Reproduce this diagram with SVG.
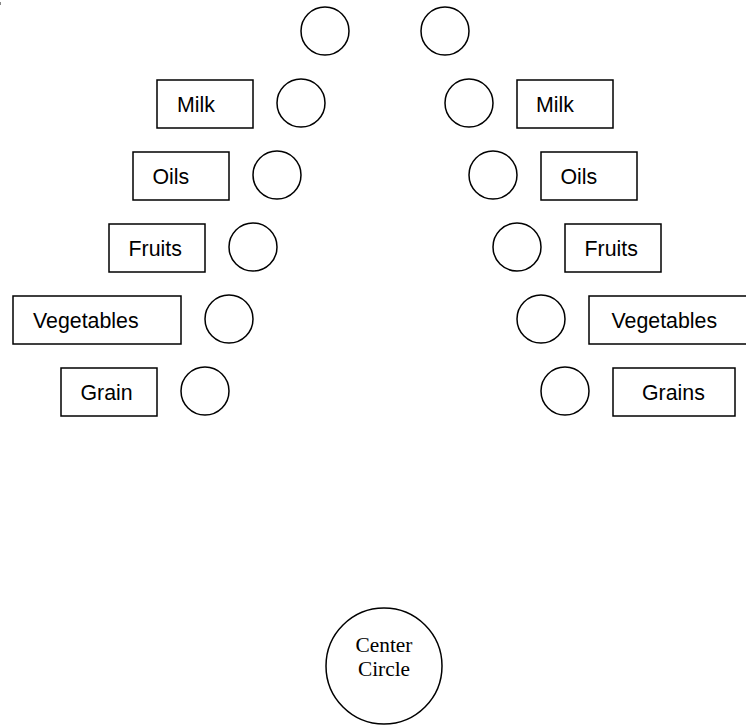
<svg xmlns="http://www.w3.org/2000/svg" width="746" height="725" viewBox="0 0 746 725">
<style>
.box{fill:#fff;stroke:#000;stroke-width:1.5}
.c{fill:#fff;stroke:#000;stroke-width:1.5}
.t{font-family:"Liberation Sans",Arial,sans-serif;font-size:21.33px;fill:#000}
.ct{font-family:"Liberation Serif","Times New Roman",serif;font-size:21.33px;fill:#000;text-anchor:middle}
</style>
<rect x="0" y="0" width="746" height="725" fill="#fff"/>
<line x1="0.5" y1="2" x2="0.5" y2="5" stroke="#888" stroke-width="1"/>
<g id="connectors"></g>
<g id="circle-top-left"><circle class="c" cx="325" cy="31" r="24"/></g>
<g id="circle-top-right"><circle class="c" cx="445" cy="31" r="24"/></g>
<g id="left-milk"><rect class="box" x="157" y="80" width="96" height="48"/><text class="t" x="177" y="111.5">Milk</text></g>
<g id="left-milk-circle"><circle class="c" cx="301" cy="103" r="24"/></g>
<g id="left-oils"><rect class="box" x="133" y="152" width="96" height="48"/><text class="t" x="152.5" y="183.5">Oils</text></g>
<g id="left-oils-circle"><circle class="c" cx="277" cy="175" r="24"/></g>
<g id="left-fruits"><rect class="box" x="109" y="224" width="96" height="48"/><text class="t" x="128.5" y="255.5">Fruits</text></g>
<g id="left-fruits-circle"><circle class="c" cx="253" cy="247" r="24"/></g>
<g id="left-vegetables"><rect class="box" x="13" y="296" width="168" height="48"/><text class="t" x="33" y="327.5">Vegetables</text></g>
<g id="left-vegetables-circle"><circle class="c" cx="229" cy="319" r="24"/></g>
<g id="left-grain"><rect class="box" x="61" y="368" width="96" height="48"/><text class="t" x="80.5" y="399.5">Grain</text></g>
<g id="left-grain-circle"><circle class="c" cx="205" cy="391" r="24"/></g>
<g id="right-milk-circle"><circle class="c" cx="469" cy="103" r="24"/></g>
<g id="right-milk"><rect class="box" x="517" y="80" width="96" height="48"/><text class="t" x="536" y="111.5">Milk</text></g>
<g id="right-oils-circle"><circle class="c" cx="493" cy="175" r="24"/></g>
<g id="right-oils"><rect class="box" x="541" y="152" width="96" height="48"/><text class="t" x="560.5" y="183.5">Oils</text></g>
<g id="right-fruits-circle"><circle class="c" cx="517" cy="247" r="24"/></g>
<g id="right-fruits"><rect class="box" x="565" y="224" width="96" height="48"/><text class="t" x="584.5" y="255.5">Fruits</text></g>
<g id="right-vegetables-circle"><circle class="c" cx="541" cy="319" r="24"/></g>
<g id="right-vegetables"><rect class="box" x="589" y="296" width="168" height="48"/><text class="t" x="611.5" y="327.5">Vegetables</text></g>
<g id="right-grains-circle"><circle class="c" cx="565" cy="391" r="24"/></g>
<g id="right-grains"><rect class="box" x="613" y="368" width="122" height="48"/><text class="t" x="642" y="399.5">Grains</text></g>
<g id="center-circle"><circle class="c" cx="384" cy="666" r="58"/><text class="ct" x="384" y="652">Center</text><text class="ct" x="384" y="676">Circle</text></g>
</svg>
